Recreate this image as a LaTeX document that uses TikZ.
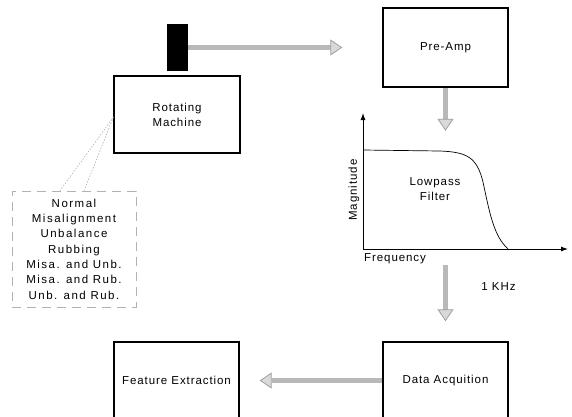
\documentclass[tikz,border=0pt]{standalone}
\usepackage{fontspec}
\setmainfont{Liberation Sans}[LetterSpace=8]
\newfontfamily\listfont{Liberation Sans}[LetterSpace=13]
\usetikzlibrary{arrows.meta,calc}
\tikzset{
  blk/.style={draw=black, line width=1.4pt, inner sep=0pt, align=center,
    font=\fontsize{11.5}{15}\selectfont},
  fat/.style={line width=5.5pt, draw=gray!55,
    -{Triangle[length=12pt,width=16pt,line width=0.8pt,color=gray!75,fill=gray!30]}},
  axis/.style={line width=0.9pt, -{Latex[length=7pt,width=5pt]}},
  lbl/.style={font=\fontsize{11.5}{13}\selectfont, inner sep=0pt},
  leader/.style={gray!70, line width=0.5pt, dash pattern=on 1.5pt off 1.5pt},
  listbox/.style={draw=gray!60, line width=0.6pt, dash pattern=on 9pt off 6pt,
    minimum width=124pt, minimum height=116pt, inner sep=0pt, align=center,
    font=\listfont\fontsize{11.5}{15.3}\selectfont}
}
\begin{document}
\begin{tikzpicture}[x=1pt,y=-1pt]
\useasboundingbox (0,0) rectangle (572,416);
% sensor and machine
\node[fill=black, minimum width=21pt, minimum height=47pt, inner sep=0pt] (sensor) at (177.5,47.5) {};
\node[blk, minimum width=126pt, minimum height=77pt] (rm) at (177,114.5) {Rotating\\Machine};
% pre-amp
\node[blk, minimum width=125pt, minimum height=79pt] (pre) at (445.5,47.5) {Pre-Amp};
% bottom boxes
\node[blk, minimum width=125pt, minimum height=77pt] (daq) at (445.5,380.5) {Data Acquition};
\node[blk, minimum width=125pt, minimum height=77pt] (fe) at (176.5,380.5) {Feature Extraction};
% plot area
\node[minimum width=205pt, minimum height=134pt, inner sep=0pt] (plot) at (465.5,198) {};
\coordinate (o) at (363,249);
\coordinate (ytop) at (363,113);
\coordinate (xend) at (568,249);
\draw[axis] (o) -- (ytop);
\draw[axis] (o) -- (xend);
\draw[line width=0.7pt] (363,150) -- (440,151)
  .. controls (468,152) and (477,158) .. (483,182)
  .. controls (490,215) and (494,236) .. (508,249);
\node[lbl, rotate=90] (mag) at (354,190) {Magnitude};
\node[lbl, anchor=west] (freq) at (364,259) {Frequency};
\node[lbl, align=center, font=\fontsize{11.5}{15}\selectfont] (lp) at (435,189.5) {Lowpass\\Filter};
\node[lbl] (khz) at (498.5,287) {1 KHz};
% list of conditions
\node[listbox] (list) at (74,249) {Normal\\Misalignment\\Unbalance\\Rubbing\\Misa. and Unb.\\Misa. and Rub.\\Unb. and Rub.};
\coordinate (ap) at (113.5,117);
\draw[leader] (ap) -- ($(list.north)+(-14,0)$);
\draw[leader] (ap) -- ($(list.north)+(10,0)$);
% connectors
\draw[fat, shorten >=40pt] (sensor.east) -- (sensor.east -| pre.west);
\draw[fat] (pre.south) -- (pre.south |- plot.north);
\draw[fat, shorten >=20pt] (plot.south -| daq.north) -- (daq.north);
\draw[fat, shorten >=20pt] (daq.west) -- (fe.east);
\end{tikzpicture}
\end{document}
